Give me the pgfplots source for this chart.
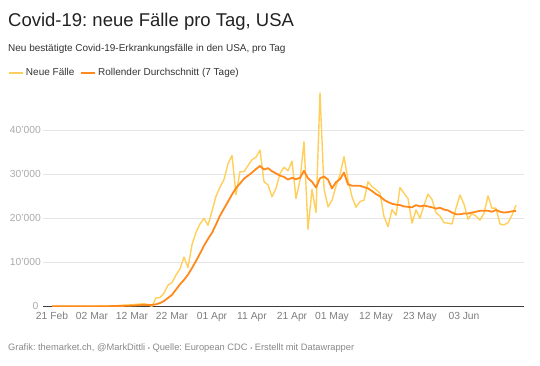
\documentclass[border=0pt]{standalone}
\usepackage{pgfplots}
\pgfplotsset{compat=1.18}
\usepackage{pgfplotstable}
\usepackage{fontspec}
\setmainfont{Liberation Sans}
\frenchspacing

\definecolor{cyellow}{RGB}{255,207,90}
\definecolor{corange}{RGB}{255,137,28}
\definecolor{cgrid}{RGB}{229,229,229}
\definecolor{cbase}{RGB}{60,60,60}
\definecolor{ctitle}{RGB}{34,34,34}
\definecolor{csub}{RGB}{51,51,51}
\definecolor{cylab}{RGB}{170,170,170}
\definecolor{cxlab}{RGB}{125,125,125}
\definecolor{cfoot}{RGB}{136,136,136}

\pgfplotstableread{
day yel ora
0 0 0
1 0 0
2 0 0
3 0 0
4 2 0
5 0 0
6 2 1
7 5 1
8 5 2
9 10 3
10 15 5
11 20 8
12 30 12
13 50 18
14 70 28
15 90 40
16 120 55
17 200 75
18 270 100
19 290 130
20 350 170
21 450 210
22 500 260
23 600 320
24 300 330
25 0 300
26 1900 450
27 2000 750
28 3000 1200
29 4800 1900
30 5400 2600
31 7100 3800
32 8500 5000
33 11200 6000
34 8800 7200
35 14000 8700
36 16800 10300
37 18700 12000
38 20000 13800
39 18400 15300
40 21600 16700
41 25000 18600
42 27100 20600
43 28800 22200
44 32400 23800
45 34300 25400
46 25400 26900
47 30600 27900
48 30600 29000
49 32000 29700
50 33300 30400
51 33900 31200
52 35500 31900
53 28300 31100
54 27600 31400
55 24900 30700
56 26800 30200
57 30200 29700
58 31600 29400
59 30800 28800
60 33000 29200
61 24500 28900
62 28700 29200
63 37400 30800
64 17500 29100
65 26600 28300
66 21300 27000
67 48500 29100
68 26800 29500
69 22600 28800
70 24100 26800
71 27300 28200
72 29900 28900
73 34000 30400
74 28700 27700
75 24900 27400
76 22500 27400
77 23800 27400
78 24100 27100
79 28300 26800
80 27200 26200
81 26500 25500
82 25700 25000
83 20400 24200
84 18100 23700
85 22000 23300
86 20700 23100
87 27000 23000
88 25700 22700
89 24500 22600
90 18900 22500
91 21900 23000
92 20000 22700
93 23000 22900
94 25500 22700
95 24300 22500
96 21300 22200
97 20500 22400
98 19000 22000
99 18900 21800
100 18700 21300
101 22300 20900
102 25300 20900
103 23200 21100
104 19800 21100
105 21100 21300
106 20500 21500
107 19600 21700
108 21100 21700
109 25100 21700
110 22300 21500
111 22300 21900
112 18700 21500
113 18500 21300
114 19000 21400
115 20700 21600
116 23000 21700
}\covid

\begin{document}
\begin{tikzpicture}
\useasboundingbox (0,0) rectangle (540bp,-366bp);
\node[anchor=base west, inner sep=0, text=ctitle, font=\fontsize{18.5bp}{22bp}\selectfont] at (8bp,-26.7bp) {Covid-19: neue Fälle pro Tag, USA};
\node[anchor=base west, inner sep=0, text=csub, font=\fontsize{10bp}{12bp}\selectfont] at (8bp,-51bp) {Neu bestätigte Covid-19-Erkrankungsfälle in den USA, pro Tag};
\begin{axis}[
  scale only axis, width=481bp, height=220bp,
  at={(43bp,-306.3bp)}, anchor=south west,
  xmin=-2.25, xmax=118, ymin=0, ymax=50000,
  axis line style={draw=none},
  major tick length=0pt,
  xtick={0,10,20,30,40,50,60,70,81,92,103},
  xticklabels={21 Feb,02 Mar,12 Mar,22 Mar,01 Apr,11 Apr,21 Apr,01 May,12 May,23 May,03 Jun},
  ytick={10000,20000,30000,40000},
  yticklabels={10'000,20'000,30'000,40'000},
  extra y ticks={0}, extra y tick labels={0},
  extra y tick style={grid style={draw=cbase, line width=1bp}, yticklabel style={xshift=-2.5bp}},
  ymajorgrids, grid style={draw=cgrid, line width=0.8bp},
  scaled y ticks=false,
  xticklabel style={font=\fontsize{10.3bp}{12bp}\selectfont, text=cxlab, inner sep=1bp, yshift=-4.5bp},
  yticklabel style={font=\fontsize{10.3bp}{12bp}\selectfont, text=cylab, inner sep=1bp, xshift=-1bp},
  legend style={at={(-0.0728,1.0605)}, anchor=west, draw=none, fill=none, inner sep=0pt,
    font=\fontsize{10bp}{12bp}\selectfont, text=csub,
    /tikz/every even column/.append style={column sep=4bp}},
  legend columns=-1,
  legend image code/.code={\draw[#1, line width=1.8bp] (0bp,0bp) -- (14bp,0bp);},
]
\addplot[cyellow, line width=1.4bp, line join=round] table[x=day, y=yel] {\covid};
\addlegendentry{Neue Fälle}
\addplot[corange, line width=1.8bp, line join=round] table[x=day, y=ora] {\covid};
\addlegendentry{Rollender Durchschnitt (7 Tage)}
\end{axis}
\node[anchor=base west, inner sep=0, text=cfoot, font=\fontsize{9.3bp}{11bp}\selectfont] at (8bp,-350bp) {Grafik: themarket.ch, @MarkDittli {\fontsize{6bp}{6bp}\selectfont•} Quelle: European CDC {\fontsize{6bp}{6bp}\selectfont•} Erstellt mit Datawrapper};
\end{tikzpicture}
\end{document}
